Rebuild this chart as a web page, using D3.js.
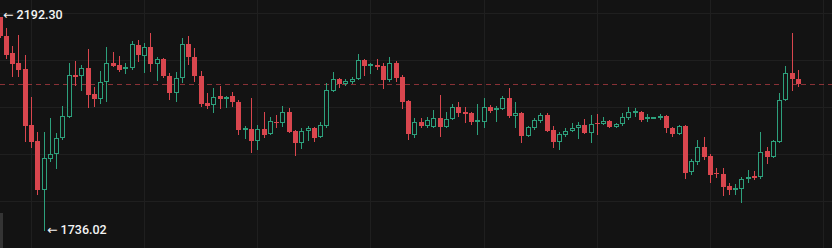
<!DOCTYPE html>
<html>
<head>
<meta charset="utf-8">
<script src="https://cdn.jsdelivr.net/npm/d3@7/dist/d3.min.js"></script>
<style>
  html, body { margin: 0; padding: 0; background: #131313; overflow: hidden; }
  svg { display: block; }
</style>
</head>
<body>
<svg id="chart" width="832" height="248"></svg>
<script>
// ---- Data ----
const opens = [2191.5,2151.1,2114.9,2093.6,2080.9,1961.7,1927.7,1823.4,1889.4,1900.0,
1934.0,1978.7,2068.1,2066.0,2083.0,2027.7,2017.0,2053.2,2093.6,2089.4,
2080.9,2083.0,2131.9,2108.5,2127.7,2091.5,2102.1,2066.0,2029.8,2061.7,
2134.0,2106.4,2066.0,2008.5,2004.3,2023.4,2017.0,2023.4,2010.6,1951.1,
1953.2,1927.7,1953.2,1942.6,1968.1,1966.0,1989.4,1948.9,1923.4,1948.9,
1955.3,1936.2,1959.6,2034.0,2059.6,2048.9,2053.2,2059.6,2100.0,2089.4,
2089.4,2087.2,2057.4,2093.6,2063.8,2012.8,1940.4,1968.1,1959.6,1957.4,
1976.6,1957.4,1974.5,2000.0,1989.4,1987.2,1968.1,1968.1,2000.0,1993.6,
1995.7,2019.1,1980.9,1987.2,1938.3,1955.3,1970.2,1983.0,1951.1,1925.5,
1940.4,1948.9,1955.3,1961.7,1944.7,1966.0,1963.8,1970.2,1957.4,1963.8,
1976.6,1987.2,1989.4,1976.6,1976.6,1976.6,1980.9,1955.3,1942.6,1959.6,
1861.7,1883.0,1914.9,1895.7,1859.6,1857.4,1831.9,1823.4,1825.5,1846.8,
1853.2,1851.1,1906.4,1893.6,1925.5,2014.9,2072.3,2059.6];
const highs = [2192.3,2168.1,2129.8,2153.2,2110.6,2021.3,1946.8,1946.8,1976.6,1944.7,
2002.1,2093.6,2097.9,2089.4,2123.4,2042.6,2076.6,2127.7,2117.0,2108.5,
2093.6,2140.4,2142.6,2136.2,2157.4,2106.4,2104.3,2072.3,2074.5,2146.8,
2151.1,2125.5,2076.6,2029.8,2040.4,2044.7,2023.4,2031.9,2014.9,1959.6,
2019.1,1961.7,1989.4,1978.7,1983.0,2002.1,1997.9,1951.1,1955.3,1959.6,
1957.4,1968.1,2051.1,2074.5,2061.7,2059.6,2063.8,2112.8,2102.1,2093.6,
2102.1,2093.6,2106.4,2097.9,2068.1,2014.9,1976.6,1976.6,1978.7,1993.6,
2025.5,1989.4,2006.4,2010.6,2000.0,1989.4,2006.4,2019.1,2004.3,2002.1,
2023.4,2040.4,2010.6,1989.4,1959.6,1976.6,1987.2,1987.2,1959.6,1946.8,
1955.3,1966.0,1968.1,1974.5,1983.0,1985.1,1978.7,1972.3,1966.0,1987.2,
2000.0,1997.9,1990.5,1985.1,1978.7,1985.1,1983.0,1957.4,1961.7,1961.7,
1889.4,1929.8,1936.2,1900.0,1870.2,1870.2,1838.3,1836.2,1851.1,1866.0,
1863.8,1946.8,1914.9,1929.8,2029.8,2087.2,2157.4,2078.7];
const lows = [2146.8,2102.1,2063.8,2063.8,1925.5,1912.8,1812.8,1736.02,1883.0,1868.1,
1929.8,1976.6,2044.7,2034.0,1997.9,2000.0,2006.4,2010.6,2085.1,2074.5,
2070.2,2078.7,2095.7,2072.3,2074.5,2055.3,2062.0,2014.9,2010.6,2051.1,
2089.4,2053.2,2000.0,1995.7,1987.2,1995.7,1997.9,2000.0,1940.4,1931.9,
1902.1,1908.5,1934.0,1940.4,1955.3,1957.4,1944.7,1895.7,1910.6,1927.7,
1925.5,1934.0,1955.3,2031.9,2040.4,2044.7,2048.9,2057.4,2066.0,2070.2,
2078.7,2038.3,2053.2,2053.2,1995.7,1929.8,1934.0,1955.3,1955.3,1955.3,
1936.2,1955.3,1972.3,1978.7,1966.0,1961.7,1940.4,1955.3,1987.2,1968.1,
1993.6,1976.6,1955.3,1923.4,1936.2,1951.1,1966.0,1946.8,1912.8,1908.5,
1936.2,1946.8,1931.9,1942.6,1923.4,1940.4,1961.7,1955.3,1956.0,1959.6,
1972.3,1978.7,1968.1,1968.1,1974.5,1972.3,1944.7,1936.2,1940.4,1846.8,
1855.3,1876.6,1887.2,1838.3,1848.9,1810.6,1812.8,1812.8,1795.7,1838.3,
1844.7,1846.8,1878.7,1891.5,1923.4,2012.8,2034.0,2042.6];
const closes = [2151.1,2110.6,2091.5,2078.7,1959.6,1925.5,1823.4,1891.5,1900.0,1934.0,
1980.9,2068.1,2063.8,2083.0,2025.5,2017.0,2053.2,2093.6,2087.2,2078.7,
2085.1,2134.0,2110.6,2127.7,2091.5,2102.1,2064.9,2029.8,2061.7,2134.0,
2106.4,2066.0,2006.4,2002.1,2021.3,2017.0,2021.3,2010.6,1951.1,1955.3,
1927.7,1953.2,1940.4,1970.2,1964.9,1989.4,1946.8,1923.4,1948.9,1955.3,
1934.0,1961.7,2036.2,2059.6,2048.9,2055.3,2059.6,2100.0,2087.2,2091.5,
2085.1,2057.4,2093.6,2061.7,2010.6,1942.6,1968.1,1959.6,1972.3,1976.6,
1957.4,1974.5,2000.0,1987.2,1985.1,1968.1,1972.3,2000.0,1991.5,1997.9,
2019.1,1980.9,1987.2,1938.3,1957.4,1972.3,1983.0,1948.9,1925.5,1942.6,
1948.9,1955.3,1961.7,1944.7,1963.8,1962.8,1970.2,1957.4,1963.8,1978.7,
1989.4,1991.5,1972.3,1978.7,1977.7,1980.9,1955.3,1942.6,1959.6,1859.6,
1885.1,1914.9,1893.6,1855.3,1856.4,1829.8,1823.4,1827.7,1846.8,1851.1,
1848.9,1904.3,1893.6,1927.7,2014.9,2072.3,2059.6,2048.9];
const priceGridTicks = [1800, 1900, 2000, 2100, 2200];
const timeGridIndices = [5, 23, 41, 59, 77, 95, 113, 131];
const maxLabel = "2192.30";
const minLabel = "1736.02";

// ---- Layout ----
const W = 832, H = 248;
const bg = "#131313";
const upColor = "#2da07c";
const downColor = "#d9464e";
const gridColor = "#1f1f1f";

const data = opens.map((o, i) => ({ i, o, h: highs[i], l: lows[i], c: closes[i] }));

const x = d3.scaleLinear().domain([0, data.length - 1]).range([-0.5, 798]);
const y = d3.scaleLinear().domain([1800, 2200]).range([201, 13]);

const svg = d3.select("#chart");
svg.append("rect").attr("width", W).attr("height", H).attr("fill", bg);

// grid
const grid = svg.append("g").attr("shape-rendering", "crispEdges");
grid.selectAll("line.h").data(priceGridTicks).join("line")
  .attr("x1", 0).attr("x2", W)
  .attr("y1", d => Math.round(y(d)) + 0.5).attr("y2", d => Math.round(y(d)) + 0.5)
  .attr("stroke", gridColor).attr("stroke-width", 1);
grid.selectAll("line.v").data(timeGridIndices).join("line")
  .attr("y1", 0).attr("y2", H)
  .attr("x1", d => Math.round(x(d)) + 0.5).attr("x2", d => Math.round(x(d)) + 0.5)
  .attr("stroke", gridColor).attr("stroke-width", 1);

// last price line
const last = closes[closes.length - 1];
svg.append("line")
  .attr("x1", 0).attr("x2", W)
  .attr("y1", Math.round(y(last)) + 0.5).attr("y2", Math.round(y(last)) + 0.5)
  .attr("stroke", downColor).attr("stroke-opacity", 0.6)
  .attr("stroke-width", 1).attr("stroke-dasharray", "5,4")
  .attr("shape-rendering", "crispEdges");

// candles
const bodyW = 5;
const g = svg.append("g").attr("shape-rendering", "crispEdges");
const cand = g.selectAll("g.c").data(data).join("g");
cand.append("line")
  .attr("x1", d => Math.round(x(d.i)) + 0.5)
  .attr("x2", d => Math.round(x(d.i)) + 0.5)
  .attr("y1", d => y(d.h)).attr("y2", d => y(d.l))
  .attr("stroke", d => d.c >= d.o ? upColor : downColor)
  .attr("stroke-width", 1);
cand.append("rect")
  .attr("x", d => {
    const cx = Math.round(x(d.i));
    return d.c >= d.o ? cx - 2 + 0.5 : cx - 2;
  })
  .attr("y", d => {
    const top = Math.round(y(Math.max(d.o, d.c)));
    return d.c >= d.o ? top + 0.5 : top;
  })
  .attr("width", d => d.c >= d.o ? bodyW - 1 : bodyW)
  .attr("height", d => {
    const top = Math.round(y(Math.max(d.o, d.c)));
    const bot = Math.round(y(Math.min(d.o, d.c)));
    const hgt = Math.max(bot - top, 1);
    return d.c >= d.o ? Math.max(hgt - 1, 1) : hgt;
  })
  .attr("fill", d => d.c >= d.o ? bg : downColor)
  .attr("stroke", d => d.c >= d.o ? upColor : "none")
  .attr("stroke-width", 1);

// high / low labels
const font = "Roboto, 'DejaVu Sans', sans-serif";
const iMax = highs.indexOf(d3.max(highs));
const iMin = lows.indexOf(d3.min(lows));
svg.append("text")
  .attr("x", x(iMax) + 3.5).attr("y", y(highs[iMax]) + 2.2)
  .attr("fill", "#f4f4f4").attr("font-family", font)
  .attr("font-size", 12.5).attr("font-weight", 500)
  .text("\u2190 " + maxLabel);
svg.append("text")
  .attr("x", x(iMin) + 3.5).attr("y", y(lows[iMin]) + 3.2)
  .attr("fill", "#f4f4f4").attr("font-family", font)
  .attr("font-size", 12.5).attr("font-weight", 500)
  .text("\u2190 " + minLabel);

// small panel edge bottom-left
svg.append("rect").attr("x", 0).attr("y", 213).attr("width", 3).attr("height", 35)
  .attr("fill", "#343434");
</script>
</body>
</html>
